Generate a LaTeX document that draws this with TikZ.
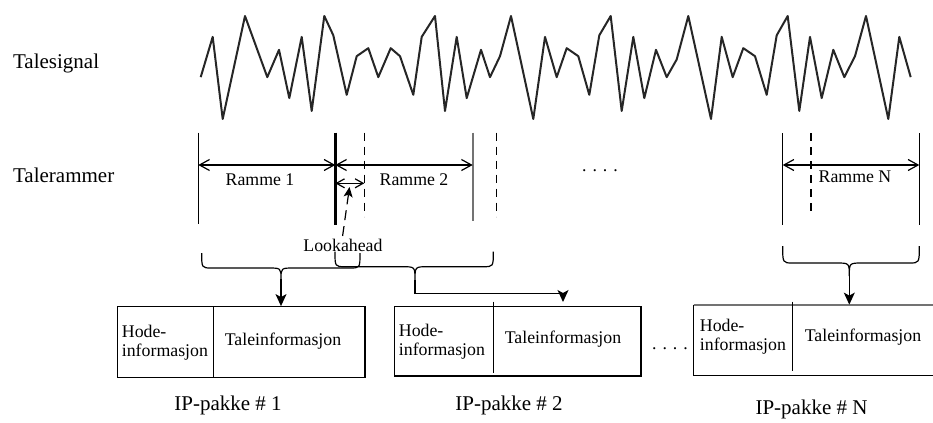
\documentclass[tikz,border=0pt]{standalone}
\usepackage{fontspec}
\setmainfont{Liberation Serif}
\usetikzlibrary{arrows.meta}

% open curly brace (ends up, cusp down); #1 names the cusp
\newcommand\upbrace[7]{%
  \draw[bracestyle] (#2,#5) .. controls (#2,#6) .. (#2+10,#6)
    -- (#4-13,#6) .. controls (#4,#6) .. (#4,#7) coordinate (#1)
    .. controls (#4,#6) .. (#4+13,#6)
    -- (#3-10,#6) .. controls (#3,#6) .. (#3,#5);}

\begin{document}
\begin{tikzpicture}[x=0.5pt,y=-0.5pt,
  big/.style={font=\fontsize{10.5}{12}\selectfont, inner sep=0pt},
  small/.style={font=\fontsize{8.9}{9.6}\selectfont, inner sep=0pt},
  hdr/.style={small, align=left, anchor=west},
  frameline/.style={line width=0.6pt},
  dashline/.style={line width=0.6pt, dash pattern=on 4pt off 3pt},
  dim/.style={line width=0.6pt,
    {Straight Barb[length=5pt,width=5.5pt]}-{Straight Barb[length=5pt,width=5.5pt]}},
  smalldim/.style={line width=0.6pt,
    {Straight Barb[length=4pt,width=4.5pt]}-{Straight Barb[length=4pt,width=4.5pt]}},
  downarr/.style={line width=0.6pt, -{Stealth[length=6pt,width=5.5pt,inset=1.5pt]}},
  bracestyle/.style={line width=0.6pt},
  pkt/.style={draw, line width=0.6pt, inner sep=0pt},
]
\useasboundingbox (0,0) rectangle (933,423);

% row labels
\node[big, anchor=west] (sig) at (12.7,63.3) {Talesignal};
\node[big, anchor=west] (frm) at (12.7,175) {Talerammer};

% speech waveform
\begin{scope}[yshift=-2.35pt, yscale=0.966]
\draw[line width=1pt, black!85, line join=round] plot coordinates {
 (200.7,75) (212.7,33.3) (222.7,118.3) (245,11.7) (267.3,75) (279,46.7)
 (289.3,96.7) (301.7,33.3) (311.7,110) (324.3,11.7) (333.3,31.7) (346.7,93.3)
 (356.7,53.3) (368.3,45) (378.3,75) (390.7,45) (400,53.3) (413.3,93.3)
 (421.7,33.3) (435,11.7) (445,110) (456.7,33.3) (466.7,96.7) (481,46.7)
 (490,75) (500,53.3) (511,11.7) (533.3,118.3) (545,33.3) (556.7,75)
 (566.7,45) (578.3,53.3) (589.3,93.3) (599.3,31.7) (610.7,11.7) (621.7,110)
 (633.3,33.3) (644.3,96.7) (656,46.7) (666.7,75) (676.7,56.7) (688.3,11.7)
 (711,118.3) (721.7,33.3) (732.7,75) (743.3,45) (755,53.3) (766.7,93.3)
 (776.7,31.7) (787.7,11.7) (799.3,110) (810,33.3) (821.7,96.7) (833.3,46.7)
 (844.3,75) (855,53.3) (866,11.7) (888.3,118.3) (899.3,33.3) (910.7,75)};
\end{scope}

% frame boundaries
\draw[frameline] (198.3,132.7) -- (198.3,224);
\draw[line width=1.2pt] (335.3,132.7) -- (335.3,225);
\draw[dashline] (364.3,132.7) -- (364.3,216.7);
\draw[line width=0.8pt, black!55] (472.7,132.7) -- (472.7,221);
\draw[dashline] (496.7,132.7) -- (496.7,216.7);
\draw[frameline] (782.7,133) -- (782.7,225);
\draw[dashline] (811,133) -- (811,216.7);
\draw[frameline] (919.3,133) -- (919.3,225);

% frame extents
\coordinate (r1a) at (198.3,165);
\coordinate (r1b) at (335.3,165);
\coordinate (r2b) at (472.7,165);
\coordinate (la)  at (335.3,183.3);
\coordinate (lb)  at (364.3,183.3);
\coordinate (rNa) at (782.7,165);
\coordinate (rNb) at (919.3,165);
\draw[dim] (r1a) -- (r1b);
\draw[dim] (r1b) -- (r2b);
\draw[smalldim] (la) -- (lb);
\draw[dim] (rNa) -- (rNb);

\node[small] (ramme1) at (260,179.5) {Ramme 1};
\node[small] (ramme2) at (414,179.5) {Ramme 2};
\node[small] (rammeN) at (855,176.5) {Ramme N};
\node[small] (dots1) at (600,170.7) {. . . .};

% lookahead label and pointer
\node[small] (lk) at (343,245.7) {Lookahead};
\coordinate (lks) at (342.6,236);
\coordinate (lkt) at (349.5,187);
\draw[dashline, dash pattern=on 5pt off 3pt,
  -{Stealth[length=5pt,width=4.5pt,inset=1.2pt]}] (lks) -- (lkt);

% grouping braces
\upbrace{t1}{201.7}{360}{281}{253}{268}{279}
\upbrace{t2}{335}{493.3}{415}{251.7}{266.7}{280}
\upbrace{tN}{782.7}{919.3}{849.3}{246}{263}{276}

% packets
\node[pkt, minimum width=123.85pt, minimum height=35.3pt] (p1) at (241.15,342) {};
\draw[frameline] (213.3,306.7) -- (213.3,377.3);
\node[hdr] (h1) at (121.5,343) {Hode-\\informasjon};
\node[small] (b1) at (283,341) {Taleinformasjon};

\node[pkt, minimum width=123.35pt, minimum height=34.65pt] (p2) at (517.65,341.35) {};
\draw[frameline] (493.3,301.7) -- (493.3,372.7);
\node[hdr] (h2) at (398.5,342) {Hode-\\informasjon};
\node[small] (b2) at (563,339) {Taleinformasjon};

\node[inner sep=0pt, minimum width=119.5pt, minimum height=35pt] (p3) at (813.5,340) {};
\draw[frameline] (p3.north west) -- (p3.south west) -- (p3.south east);
\draw[line width=0.9pt, black!55] (p3.north west) -- (p3.north east);
\draw[frameline] (792.3,301.7) -- (792.3,370.7);
\node[hdr] (h3) at (699.5,337) {Hode-\\informasjon};
\node[small] (b3) at (863,337) {Taleinformasjon};

\node[small] (dots2) at (670,349) {. . . .};

% frames into packets
\coordinate (a2bend) at (563,293.3);
\coordinate (a2end) at (563,302);
\draw[downarr] (t1) -- (t1 |- p1.north);
\draw[downarr] (t2) |- (a2bend) -- (a2end);
\draw[downarr] (tN) -- (tN |- p3.north);

% packet captions
\node[big] (c1) at (228,405) {IP-pakke \# 1};
\node[big] (c2) at (509,405) {IP-pakke \# 2};
\node[big] (c3) at (811.5,409) {IP-pakke \# N};
\end{tikzpicture}
\end{document}
